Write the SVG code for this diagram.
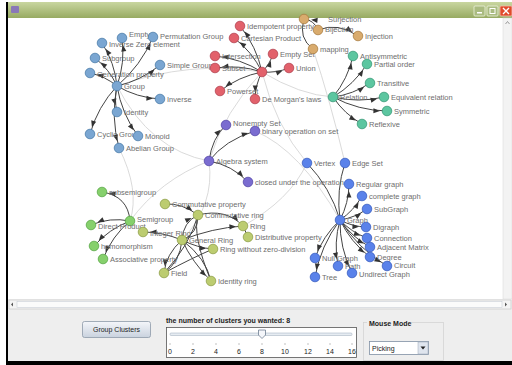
<svg xmlns="http://www.w3.org/2000/svg" width="512" height="365" viewBox="0 0 512 365">
<defs>
<linearGradient id="tb" x1="0" y1="0" x2="0" y2="1"><stop offset="0" stop-color="#c9d6a0"/><stop offset="1" stop-color="#97aa62"/></linearGradient>
<linearGradient id="btn" x1="0" y1="0" x2="0" y2="1"><stop offset="0" stop-color="#f4f6fa"/><stop offset="1" stop-color="#c9d2de"/></linearGradient>
<marker id="ar" markerUnits="userSpaceOnUse" markerWidth="20" markerHeight="20" viewBox="-12 -4 14 8" refX="0" refY="0" orient="auto"><path d="M-9.5,-1.8 L-5,0 L-9.5,1.8 z" fill="#333"/></marker>
</defs>
<style>
.e{fill:none;stroke:#444;stroke-width:1}
.f{fill:none;stroke:#d6d6d6;stroke-width:0.9}
.n{stroke-width:0.8}
.g1{fill:#7aa6d2;stroke:#4d7eaa}
.g2{fill:#e2616b;stroke:#b24452}
.g3{fill:#d9ab6d;stroke:#a97d42}
.g4{fill:#5cc6a0;stroke:#3a9a78}
.g5{fill:#7a6cd0;stroke:#5548a8}
.g6{fill:#5a82ea;stroke:#3a5ec0}
.g7{fill:#86d06c;stroke:#5aa848}
.g8{fill:#bccc70;stroke:#8fa04a}
text{font-family:"Liberation Sans",Arial,sans-serif}
.l{font-size:7.5px;fill:#6e6e6e}
.ui{font-size:7px;fill:#222}
.b{font-weight:bold}
</style>
<rect width="512" height="365" fill="#ffffff"/>
<!-- window -->
<rect x="7" y="2" width="505" height="16" fill="url(#tb)"/>
<rect x="11" y="6" width="8" height="7" rx="1" fill="#8a78b8"/>
<rect x="474" y="6" width="11" height="10" rx="1" fill="#aabb80" stroke="#eef2dd" stroke-width="0.8"/>
<rect x="477" y="12" width="5" height="1.5" fill="#ffffff"/>
<rect x="487" y="6" width="11" height="10" rx="1" fill="#aabb80" stroke="#eef2dd" stroke-width="0.8"/>
<rect x="490" y="8.5" width="5" height="5" fill="none" stroke="#ffffff" stroke-width="1"/>
<rect x="500" y="6" width="12" height="10" rx="1" fill="#e04a2c" stroke="#f4c0b0" stroke-width="0.8"/>
<path d="M503,8 L509,14 M509,8 L503,14" stroke="#ffffff" stroke-width="1.4"/>
<rect x="8" y="18" width="504" height="281" fill="#ffffff"/>
<rect x="503" y="18" width="9" height="281" fill="#f3f3f3" stroke="#d8d8d8" stroke-width="0.5"/>
<path d="M505.5,24 L507.5,21.5 L509.5,24" fill="none" stroke="#888" stroke-width="0.8"/>
<rect x="8" y="299" width="504" height="62" fill="#eeeeee"/>
<rect x="9" y="300" width="502" height="9" fill="#f4f4f4" stroke="#c4c4c4" stroke-width="0.6"/>
<rect x="17" y="301.5" width="485" height="6" fill="#fbfbfb" stroke="#bfc6cf" stroke-width="0.5"/>
<path d="M13,302.5 L11,304.5 L13,306.5 z" fill="#555"/>
<path d="M505,302.5 L507,304.5 L505,306.5 z" fill="#555"/>
<rect x="6" y="2" width="2" height="362" fill="#000"/>
<rect x="6" y="361" width="506" height="4" fill="#000"/>

<g id="connectors">
<path class="f" d="M117,86 Q150,150 209,161"/>
<path class="f" d="M262,72 Q300,95 333,97"/>
<path class="f" d="M262,72 Q225,110 209,161"/>
<path class="f" d="M313,49 Q330,100 345,163"/>
<path class="f" d="M262,72 Q275,125 307,163"/>
<path class="f" d="M209,161 Q160,180 130,221"/>
<path class="f" d="M209,161 Q215,205 182,240"/>
<path class="f" d="M255,131 Q300,150 340,220"/>
<path class="f" d="M119,148 Q140,190 130,221"/>
<path class="f" d="M117,86 Q190,60 262,72"/>
<path class="f" d="M243,226 Q290,200 307,163"/>
<!-- group -->
<path class="e" marker-end="url(#ar)" d="M117,86 Q114.7,62.7 102,43"/>
<path class="e" marker-end="url(#ar)" d="M117,86 Q125.3,62.6 122,38"/>
<path class="e" marker-end="url(#ar)" d="M117,86 Q140.9,65.8 153,37"/>
<path class="e" marker-end="url(#ar)" d="M117,86 Q109.4,69.4 95,58"/>
<path class="e" marker-end="url(#ar)" d="M117,86 Q141,80.7 160,65"/>
<path class="e" marker-end="url(#ar)" d="M117,86 Q105.1,76.3 90,73"/>
<path class="e" marker-end="url(#ar)" d="M117,86 Q136.9,97.7 160,99"/>
<path class="e" marker-end="url(#ar)" d="M117,86 Q113.9,99 117,112"/>
<path class="e" marker-end="url(#ar)" d="M117,86 Q97.7,106.8 90,134"/>
<path class="e" marker-end="url(#ar)" d="M117,86 Q121.5,113.5 138,136"/>
<path class="e" marker-end="url(#ar)" d="M117,86 Q110.6,117.2 119,148"/>
<!-- set -->
<path class="e" marker-end="url(#ar)" d="M262,72 Q256.5,46.4 240,26"/>
<path class="e" marker-end="url(#ar)" d="M262,72 Q252.1,51.6 234,38"/>
<path class="e" marker-end="url(#ar)" d="M262,72 Q240.4,58.4 215,56"/>
<path class="e" marker-end="url(#ar)" d="M262,72 Q269.7,64.3 273,54"/>
<path class="e" marker-end="url(#ar)" d="M262,72 Q239,64.4 215,68"/>
<path class="e" marker-end="url(#ar)" d="M262,72 Q276,73.2 289,68"/>
<path class="e" marker-end="url(#ar)" d="M262,72 Q238.7,76.5 220,91"/>
<path class="e" marker-end="url(#ar)" d="M262,72 Q255.3,84.7 255,99"/>
<!-- mapping -->
<path class="e" marker-end="url(#ar)" d="M318,30 Q314,20 304,19"/>
<path class="e" marker-end="url(#ar)" d="M318,30 Q338,22 358,36"/>
<path class="e" d="M304,19 Q298,38 313,49"/>
<!-- relation -->
<path class="e" marker-end="url(#ar)" d="M333,97 Q347.9,78.9 353,56"/>
<path class="e" marker-end="url(#ar)" d="M333,97 Q354,84.6 367,64"/>
<path class="e" marker-end="url(#ar)" d="M333,97 Q353.2,94.4 370,83"/>
<path class="e" marker-end="url(#ar)" d="M333,97 Q358.5,103.1 384,97"/>
<path class="e" marker-end="url(#ar)" d="M333,97 Q358.3,110.5 387,111"/>
<path class="e" marker-end="url(#ar)" d="M333,97 Q344.3,114 362,124"/>
<!-- algebra -->
<path class="e" marker-end="url(#ar)" d="M209,161 Q212,138 226,125"/>
<path class="e" marker-end="url(#ar)" d="M209,161 Q225,140 255,131"/>
<path class="e" marker-end="url(#ar)" d="M209,161 Q232,165 248,182"/>
<!-- graph -->
<path class="e" d="M340,220 Q330.3,187.5 307,163"/>
<path class="e" d="M340,220 Q336,190 345,163"/>
<path class="e" marker-end="url(#ar)" d="M340,220 Q348.8,203 349,184"/>
<path class="e" marker-end="url(#ar)" d="M340,220 Q353.9,210.6 362,196"/>
<path class="e" marker-end="url(#ar)" d="M340,220 Q354.8,217.7 367,209"/>
<path class="e" marker-end="url(#ar)" d="M340,220 Q352.2,226.6 366,227"/>
<path class="e" marker-end="url(#ar)" d="M340,220 Q351.3,232.2 367,238"/>
<path class="e" marker-end="url(#ar)" d="M340,220 Q351.8,237.1 370,247"/>
<path class="e" marker-end="url(#ar)" d="M340,220 Q350.6,242.1 370,257"/>
<path class="e" marker-end="url(#ar)" d="M340,220 Q358,248.6 387,266"/>
<path class="e" marker-end="url(#ar)" d="M340,220 Q322.9,236 315,258"/>
<path class="e" marker-end="url(#ar)" d="M340,220 Q333.5,242.8 338,266"/>
<path class="e" marker-end="url(#ar)" d="M340,220 Q320.7,245.5 315,277"/>
<path class="e" marker-end="url(#ar)" d="M340,220 Q339.6,247.9 352,273"/>
<!-- semigroup -->
<path class="e" marker-end="url(#ar)" d="M130,221 Q128,196 102,192"/>
<path class="e" marker-end="url(#ar)" d="M130,221 Q110,217 91,225"/>
<path class="e" marker-end="url(#ar)" d="M130,221 Q109,229 94,246"/>
<path class="e" marker-end="url(#ar)" d="M130,221 Q112,236 103,259"/>
<!-- ring -->
<path class="e" marker-end="url(#ar)" d="M165,204 Q182,203 198,215"/>
<path class="e" marker-end="url(#ar)" d="M198,215 Q226,208 243,226"/>
<path class="e" marker-end="url(#ar)" d="M182,240 Q183,222 198,215"/>
<path class="e" d="M182,240 Q198,234 198,215"/>
<path class="e" marker-end="url(#ar)" d="M182,240 Q212,228 243,226"/>
<path class="e" d="M243,226 L248,237"/>
<path class="e" marker-end="url(#ar)" d="M182,240 Q198,248 213,249"/>
<path class="e" marker-end="url(#ar)" d="M182,240 Q166,254 164,273"/>
<path class="e" d="M182,240 Q180,262 164,273"/>
<path class="e" marker-end="url(#ar)" d="M182,240 Q192,262 211,281"/>
<path class="e" d="M182,240 Q206,258 211,281"/>
<path class="e" d="M164,273 Q192,258 213,249"/>
<path class="e" d="M164,273 Q190,245 198,215"/>
<path class="e" d="M211,281 Q192,235 198,215"/>
<path class="e" marker-end="url(#ar)" d="M182,240 Q162,232 143,232"/>
</g>

<!-- group -->
<g id="n-group"><circle class="n g1" cx="117" cy="86" r="4.8"/><text class="l" x="124" y="89">Group</text></g>
<g id="n-zero"><circle class="n g1" cx="102" cy="43" r="4.8"/><text class="l" x="109" y="47">Inverse Zero element</text></g>
<g id="n-empty"><circle class="n g1" cx="122" cy="38" r="4.8"/><text class="l" x="129" y="36.5">Empty</text></g>
<g id="n-perm"><circle class="n g1" cx="153" cy="37" r="4.8"/><text class="l" x="160" y="38.5">Permutation Group</text></g>
<g id="n-subgroup"><circle class="n g1" cx="95" cy="58" r="4.8"/><text class="l" x="102" y="61">Subgroup</text></g>
<g id="n-simple"><circle class="n g1" cx="160" cy="65" r="4.8"/><text class="l" x="167" y="68">Simple Group</text></g>
<g id="n-gen"><circle class="n g1" cx="90" cy="73" r="4.8"/><text class="l" x="97" y="77">Generation property</text></g>
<g id="n-inverse"><circle class="n g1" cx="160" cy="99" r="4.8"/><text class="l" x="167" y="102">Inverse</text></g>
<g id="n-identity"><circle class="n g1" cx="117" cy="112" r="4.8"/><text class="l" x="124" y="115">Identity</text></g>
<g id="n-cyclic"><circle class="n g1" cx="90" cy="134" r="4.8"/><text class="l" x="97" y="137">Cyclic Group</text></g>
<g id="n-monoid"><circle class="n g1" cx="138" cy="136" r="4.8"/><text class="l" x="145" y="139">Monoid</text></g>
<g id="n-abelian"><circle class="n g1" cx="119" cy="148" r="4.8"/><text class="l" x="126" y="151">Abelian Group</text></g>
<!-- set -->
<g id="n-set"><circle class="n g2" cx="262" cy="72" r="4.8"/></g>
<g id="n-idem"><circle class="n g2" cx="240" cy="26" r="4.8"/><text class="l" x="247" y="29">Idempotent property</text></g>
<g id="n-cart"><circle class="n g2" cx="234" cy="38" r="4.8"/><text class="l" x="241" y="41">Cartesian Product</text></g>
<g id="n-inter"><circle class="n g2" cx="215" cy="56" r="4.8"/><text class="l" x="222" y="59">Intersection</text></g>
<g id="n-emptyset"><circle class="n g2" cx="273" cy="54" r="4.8"/><text class="l" x="280" y="57">Empty Set</text></g>
<g id="n-subset"><circle class="n g2" cx="215" cy="68" r="4.8"/><text class="l" x="222" y="71">Subset</text></g>
<g id="n-union"><circle class="n g2" cx="289" cy="68" r="4.8"/><text class="l" x="296" y="71">Union</text></g>
<g id="n-power"><circle class="n g2" cx="220" cy="91" r="4.8"/><text class="l" x="227" y="94">Powerset</text></g>
<g id="n-demorgan"><circle class="n g2" cx="255" cy="99" r="4.8"/><text class="l" x="262" y="102">De Morgan's laws</text></g>
<!-- mapping -->
<g id="n-surj"><circle class="n g3" cx="304" cy="19" r="4.8"/><text class="l" x="328" y="22">Surjection</text></g>
<g id="n-bij"><circle class="n g3" cx="318" cy="30" r="4.8"/><text class="l" x="325" y="31.5">Bijection</text></g>
<g id="n-inj"><circle class="n g3" cx="358" cy="36" r="4.8"/><text class="l" x="365" y="39">Injection</text></g>
<g id="n-mapping"><circle class="n g3" cx="313" cy="49" r="4.8"/><text class="l" x="320" y="52">mapping</text></g>
<!-- relation -->
<g id="n-relation"><circle class="n g4" cx="333" cy="97" r="4.8"/><text class="l" x="340" y="100">Relation</text></g>
<g id="n-antisym"><circle class="n g4" cx="353" cy="56" r="4.8"/><text class="l" x="360" y="59">Antisymmetric</text></g>
<g id="n-partial"><circle class="n g4" cx="367" cy="64" r="4.8"/><text class="l" x="374" y="67">Partial order</text></g>
<g id="n-trans"><circle class="n g4" cx="370" cy="83" r="4.8"/><text class="l" x="377" y="86">Transitive</text></g>
<g id="n-equiv"><circle class="n g4" cx="384" cy="97" r="4.8"/><text class="l" x="391" y="100">Equivalent relation</text></g>
<g id="n-sym"><circle class="n g4" cx="387" cy="111" r="4.8"/><text class="l" x="394" y="114">Symmetric</text></g>
<g id="n-refl"><circle class="n g4" cx="362" cy="124" r="4.8"/><text class="l" x="369" y="127">Reflexive</text></g>
<!-- algebra -->
<g id="n-algebra"><circle class="n g5" cx="209" cy="161" r="4.8"/><text class="l" x="216" y="164">Algebra system</text></g>
<g id="n-nonempty"><circle class="n g5" cx="226" cy="125" r="4.8"/><text class="l" x="233" y="125.5">Nonempty Set</text></g>
<g id="n-binop"><circle class="n g5" cx="255" cy="131" r="4.8"/><text class="l" x="262" y="134">binary operation on set</text></g>
<g id="n-closed"><circle class="n g5" cx="248" cy="182" r="4.8"/><text class="l" x="255" y="185">closed under the operation</text></g>
<!-- graph -->
<g id="n-graph"><circle class="n g6" cx="340" cy="220" r="4.8"/><text class="l" x="347" y="223">Graph</text></g>
<g id="n-vertex"><circle class="n g6" cx="307" cy="163" r="4.8"/><text class="l" x="314" y="166">Vertex</text></g>
<g id="n-edgeset"><circle class="n g6" cx="345" cy="163" r="4.8"/><text class="l" x="352" y="166">Edge Set</text></g>
<g id="n-regular"><circle class="n g6" cx="349" cy="184" r="4.8"/><text class="l" x="356" y="187">Regular graph</text></g>
<g id="n-complete"><circle class="n g6" cx="362" cy="196" r="4.8"/><text class="l" x="369" y="199">complete graph</text></g>
<g id="n-subgraph"><circle class="n g6" cx="367" cy="209" r="4.8"/><text class="l" x="374" y="212">SubGraph</text></g>
<g id="n-digraph"><circle class="n g6" cx="366" cy="227" r="4.8"/><text class="l" x="373" y="230">Digraph</text></g>
<g id="n-connection"><circle class="n g6" cx="367" cy="238" r="4.8"/><text class="l" x="374" y="241">Connection</text></g>
<g id="n-adjacent"><circle class="n g6" cx="370" cy="247" r="4.8"/><text class="l" x="377" y="250">Adjacent Matrix</text></g>
<g id="n-degree"><circle class="n g6" cx="370" cy="257" r="4.8"/><text class="l" x="377" y="259.5">Degree</text></g>
<g id="n-circuit"><circle class="n g6" cx="387" cy="266" r="4.8"/><text class="l" x="394" y="268">Circuit</text></g>
<g id="n-null"><circle class="n g6" cx="315" cy="258" r="4.8"/><text class="l" x="322" y="261">Null Graph</text></g>
<g id="n-path"><circle class="n g6" cx="338" cy="266" r="4.8"/><text class="l" x="345" y="269">Path</text></g>
<g id="n-tree"><circle class="n g6" cx="315" cy="277" r="4.8"/><text class="l" x="322" y="280">Tree</text></g>
<g id="n-undirect"><circle class="n g6" cx="352" cy="273" r="4.8"/><text class="l" x="359" y="277">Undirect Graph</text></g>
<!-- semigroup -->
<g id="n-semigroup"><circle class="n g7" cx="130" cy="221" r="4.8"/><text class="l" x="137" y="221.5">Semigroup</text></g>
<g id="n-subsemi"><circle class="n g7" cx="102" cy="192" r="4.8"/><text class="l" x="109" y="195">subsemigroup</text></g>
<g id="n-direct"><circle class="n g7" cx="91" cy="225" r="4.8"/><text class="l" x="98" y="229">Direct Product</text></g>
<g id="n-homo"><circle class="n g7" cx="94" cy="246" r="4.8"/><text class="l" x="101" y="249">homomorphism</text></g>
<g id="n-assoc"><circle class="n g7" cx="103" cy="259" r="4.8"/><text class="l" x="110" y="262">Associative property</text></g>
<!-- ring -->
<g id="n-commprop"><circle class="n g8" cx="165" cy="204" r="4.8"/><text class="l" x="172" y="207">Commutative property</text></g>
<g id="n-commring"><circle class="n g8" cx="198" cy="215" r="4.8"/><text class="l" x="205" y="218">Commutative ring</text></g>
<g id="n-intring"><circle class="n g8" cx="143" cy="232" r="4.8"/><text class="l" x="150" y="235.5">Integer Ring</text></g>
<g id="n-general"><circle class="n g8" cx="182" cy="240" r="4.8"/><text class="l" x="189" y="243">General Ring</text></g>
<g id="n-ring"><circle class="n g8" cx="243" cy="226" r="4.8"/><text class="l" x="250" y="229">Ring</text></g>
<g id="n-distrib"><circle class="n g8" cx="248" cy="237" r="4.8"/><text class="l" x="255" y="240">Distributive property</text></g>
<g id="n-rwz"><circle class="n g8" cx="213" cy="249" r="4.8"/><text class="l" x="220" y="252">Ring without zero-division</text></g>
<g id="n-field"><circle class="n g8" cx="164" cy="273" r="4.8"/><text class="l" x="171" y="276">Field</text></g>
<g id="n-idring"><circle class="n g8" cx="211" cy="281" r="4.8"/><text class="l" x="218" y="284">Identity ring</text></g>

<!-- controls -->
<g id="btn-group">
<rect x="82.5" y="321.5" width="68" height="16" rx="2" fill="url(#btn)" stroke="#8d99a8" stroke-width="0.8"/>
<text class="ui" x="116.5" y="332" text-anchor="middle">Group Clusters</text>
</g>
<g id="slider">
<text class="ui b" x="166" y="323">the number of clusters you wanted: 8</text>
<rect x="166.5" y="327.5" width="190" height="30" fill="#ffffff" stroke="#555" stroke-width="0.8"/>
<rect x="170" y="333" width="182" height="2.5" rx="1" fill="#e6ecf2" stroke="#9aa8b8" stroke-width="0.5"/>
<path d="M258.5,330 h7 v5 l-3.5,3.5 l-3.5,-3.5 z" fill="#f4f6fa" stroke="#6f7f92" stroke-width="0.8"/>
<path d="M170,343 v2 M193,343 v2 M216,343 v2 M239,343 v2 M262,343 v2 M285,343 v2 M308,343 v2 M330,343 v2 M352,343 v2" stroke="#999" stroke-width="0.6"/>
<text class="ui" x="170" y="354" text-anchor="middle">0</text>
<text class="ui" x="193" y="354" text-anchor="middle">2</text>
<text class="ui" x="216" y="354" text-anchor="middle">4</text>
<text class="ui" x="239" y="354" text-anchor="middle">6</text>
<text class="ui" x="262" y="354" text-anchor="middle">8</text>
<text class="ui" x="285" y="354" text-anchor="middle">10</text>
<text class="ui" x="308" y="354" text-anchor="middle">12</text>
<text class="ui" x="330" y="354" text-anchor="middle">14</text>
<text class="ui" x="352" y="354" text-anchor="middle">16</text>
</g>
<g id="mouse-mode">
<rect x="363.5" y="322.5" width="80" height="38" fill="none" stroke="#d0d0d0" stroke-width="0.7"/>
<rect x="367" y="321" width="44" height="5" fill="#eeeeee"/>
<text class="ui b" x="369" y="326">Mouse Mode</text>
<rect x="369.5" y="341.5" width="59" height="13" fill="#ffffff" stroke="#7f8fa4" stroke-width="0.8"/>
<text class="ui" x="372" y="350.5">Picking</text>
<rect x="418" y="342" width="10" height="12" fill="#dfe5ee" stroke="#9aa6b6" stroke-width="0.5"/>
<path d="M420.5,346.5 h5 l-2.5,3 z" fill="#222"/>
</g>
</svg>
